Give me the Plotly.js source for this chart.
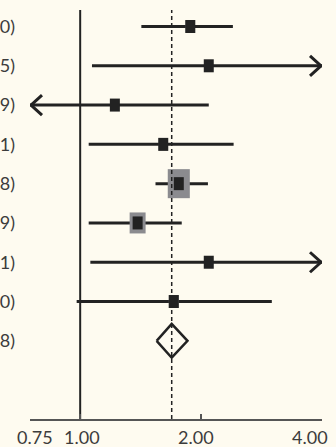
<!DOCTYPE html>
<html>
<head>
<meta charset="utf-8">
<script src="https://cdn.plot.ly/plotly-3.0.1.min.js"></script>
<style>
  html, body { margin: 0; padding: 0; background: #fefbf0; }
  #chart { width: 336px; height: 447px; }
</style>
</head>
<body>
<div id="chart"></div>
<script>
// ---- data ----
const rows        = [1, 2, 3, 4, 5, 6, 7, 8];
const rowLabels   = ["0)", "5)", "9)", "1)", "8)", "9)", "1)", "0)", "8)"];
const estimates   = [1.88, 2.09, 1.22, 1.61, 1.76, 1.39, 2.09, 1.71];
const lowerCI     = [1.42, 1.07, 0.69, 1.05, 1.54, 1.05, 1.06, 0.98];
const upperCI     = [2.40, 4.85, 2.09, 2.41, 2.08, 1.79, 4.91, 3.00];
const weights     = [5.5, 4.0, 3.5, 5.0, 30.0, 15.7, 4.0, 6.0];
const pooledRow   = 9;
const pooledEst   = 1.69;
const pooledLower = 1.55;
const pooledUpper = 1.85;
const tickValues  = [0.75, 1.00, 2.00, 4.00];
const tickLabels  = ["0.75", "1.00", "2.00", "4.00"];

// ---- styling ----
const xMin = 0.75, xMax = 4.0;
const ink = '#222222';
const textColor = '#3c3c3c';
const font = 'Lato, "Open Sans", sans-serif';
const tickLabelShift = [4.5, 2.3, -5, -12];

const clamp = v => Math.min(Math.max(v, xMin), xMax);
const rectPath = (w, h) =>
  'M' + (-w / 2) + ',' + (-h / 2) + 'H' + (w / 2) + 'V' + (h / 2) + 'H' + (-w / 2) + 'Z';

// CI lines
const ciX = [], ciY = [];
rows.forEach((r, i) => {
  ciX.push(clamp(lowerCI[i]), clamp(upperCI[i]), null);
  ciY.push(r, r, null);
});

const diamondHalf = 0.43;
const traces = [
  {
    type: 'scatter', mode: 'lines', x: ciX, y: ciY,
    line: { color: ink, width: 3 }, hoverinfo: 'skip', showlegend: false
  },
  {
    type: 'scatter', mode: 'lines',
    x: [pooledLower, pooledEst, pooledUpper, pooledEst, pooledLower],
    y: [pooledRow, pooledRow - diamondHalf, pooledRow, pooledRow + diamondHalf, pooledRow],
    line: { color: ink, width: 2.5 }, hoverinfo: 'skip', showlegend: false
  }
];

const shapes = [];
// reference line at 1
shapes.push({
  type: 'line', xref: 'x', yref: 'paper', x0: 1, x1: 1, y0: 0, y1: 1,
  line: { color: ink, width: 2 }, layer: 'below'
});
// weight boxes (grey)
rows.forEach((r, i) => {
  const h = 5.3 * Math.sqrt(weights[i]);
  const w = 0.76 * h;
  shapes.push({
    type: 'path', xref: 'x', yref: 'y', xsizemode: 'pixel', ysizemode: 'pixel',
    xanchor: estimates[i], yanchor: r, path: rectPath(w, h),
    fillcolor: '#8b8b8f', line: { width: 0 }
  });
});
// pooled estimate dashed line
shapes.push({
  type: 'line', xref: 'x', yref: 'paper', x0: pooledEst, x1: pooledEst, y0: 0, y1: 1,
  line: { color: ink, width: 1.5, dash: '4px,3px' }
});
// point estimate markers (black)
rows.forEach((r, i) => {
  shapes.push({
    type: 'path', xref: 'x', yref: 'y', xsizemode: 'pixel', ysizemode: 'pixel',
    xanchor: estimates[i], yanchor: r, path: rectPath(10, 13),
    fillcolor: ink, line: { width: 0 }
  });
});
// arrows for CIs running past the axis
rows.forEach((r, i) => {
  if (upperCI[i] > xMax) {
    shapes.push({
      type: 'path', xref: 'x', yref: 'y', xsizemode: 'pixel', ysizemode: 'pixel',
      xanchor: xMax, yanchor: r, path: 'M-12,10L-1,0L-12,-10',
      line: { color: ink, width: 3 }
    });
  }
  if (lowerCI[i] < xMin) {
    shapes.push({
      type: 'path', xref: 'x', yref: 'y', xsizemode: 'pixel', ysizemode: 'pixel',
      xanchor: xMin, yanchor: r, path: 'M12,10L1,0L12,-10',
      line: { color: ink, width: 3 }
    });
  }
});

const annotations = tickValues.map((v, i) => ({
  xref: 'x', yref: 'paper', x: Math.log10(v), y: 0,
  xanchor: 'center', yanchor: 'top', yshift: -5, xshift: tickLabelShift[i],
  text: tickLabels[i], showarrow: false,
  font: { family: font, size: 18, color: textColor }
}));

const layout = {
  width: 336, height: 447,
  margin: { l: 30, r: 14, t: 10, b: 28 },
  paper_bgcolor: '#fefbf0', plot_bgcolor: '#fefbf0',
  showlegend: false,
  font: { family: font, size: 18, color: textColor },
  xaxis: {
    type: 'log', range: [Math.log10(xMin), Math.log10(xMax)],
    showgrid: false, zeroline: false,
    showline: true, linecolor: '#555555', linewidth: 2,
    ticks: 'inside', ticklen: 5, tickwidth: 2, tickcolor: '#555555',
    tickvals: tickValues, showticklabels: false, fixedrange: true
  },
  yaxis: {
    range: [10.99, 0.58],
    tickvals: rows.concat([pooledRow]), ticktext: rowLabels,
    showgrid: false, zeroline: false, showline: false, ticks: '',
    ticklabelstandoff: 14,
    tickfont: { family: font, size: 18, color: textColor },
    fixedrange: true
  },
  shapes: shapes,
  annotations: annotations
};

Plotly.newPlot('chart', traces, layout, { staticPlot: true, displayModeBar: false });
</script>
</body>
</html>
